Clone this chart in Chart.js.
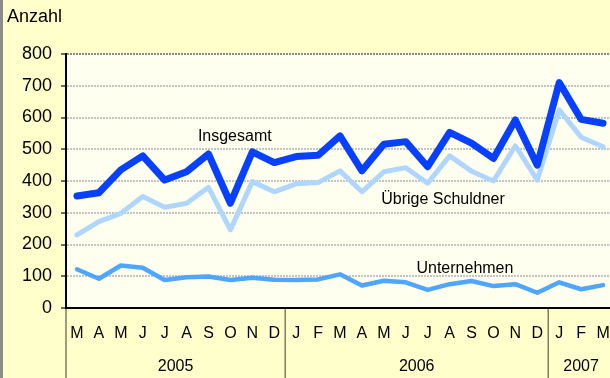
<!DOCTYPE html>
<html>
<head>
<meta charset="utf-8">
<script src="https://cdn.jsdelivr.net/npm/chart.js@4/dist/chart.umd.min.js"></script>
<style>
  html, body { margin: 0; padding: 0; background: #ffffcc; overflow: hidden; }
  canvas { display: block; }
</style>
</head>
<body>
<canvas id="chart" width="614" height="378"></canvas>
<script>
// Monate März 2005 bis März 2007
const months = ["M","A","M","J","J","A","S","O","N","D",
                "J","F","M","A","M","J","J","A","S","O","N","D",
                "J","F","M"];
const years = ["2005", "2006", "2007"];
const monthsPerYear = [10, 12, 3];

const seriesNames = ["Insgesamt", "Übrige Schuldner", "Unternehmen"];
const insgesamt = [353, 363, 435, 479, 403, 429, 485, 330, 492, 458,
                   477, 481, 542, 432, 516, 524, 445, 553, 519, 471, 592, 450,
                   710, 594, 582];
const uebrige = [230, 272, 298, 351, 317, 330, 380, 246, 398, 366,
                 391, 395, 432, 366, 429, 442, 393, 479, 431, 400, 511, 403,
                 624, 538, 508];
const unternehmen = [122, 92, 134, 127, 88, 97, 99, 88, 95, 89,
                     88, 90, 106, 71, 86, 81, 57, 75, 85, 69, 75, 48,
                     81, 59, 72];

const yTicks = [0, 100, 200, 300, 400, 500, 600, 700, 800];

const FONT = "'Liberation Sans', Arial, sans-serif";

// Beschriftung der Linien (Index auf der x-Achse, Wert auf der y-Achse)
const lineLabels = [
  { text: seriesNames[0], x: 7.2, y: 540 },
  { text: seriesNames[1], x: 16.7, y: 343 },
  { text: seriesNames[2], x: 17.7, y: 124 }
];

const decor = {
  id: "decor",
  beforeDraw(chart) {
    const { ctx, chartArea: a } = chart;
    ctx.save();
    ctx.fillStyle = "#ffffcc";
    ctx.fillRect(0, 0, chart.width, chart.height);
    ctx.fillStyle = "#ffffef";
    ctx.fillRect(a.left, a.top, a.right - a.left, a.bottom - a.top);
    ctx.fillStyle = "#8c8c8c";
    ctx.fillRect(0, 0, 3, chart.height);
    ctx.restore();
  },
  afterDraw(chart) {
    const { ctx, chartArea: a, scales } = chart;
    const x = scales.x, y = scales.y;
    const step = x.getPixelForValue(1) - x.getPixelForValue(0);
    ctx.save();
    // Jahrestrenner und Jahreszahlen unter der Achse
    ctx.strokeStyle = "#7f7d5e";
    ctx.lineWidth = 1.5;
    ctx.font = "16px " + FONT;
    ctx.fillStyle = "#000";
    ctx.textAlign = "center";
    ctx.textBaseline = "middle";
    let start = 0;
    years.forEach((yr, i) => {
      const x0 = x.getPixelForValue(start) - step / 2;
      ctx.beginPath();
      ctx.moveTo(x0, a.bottom + 1);
      ctx.lineTo(x0, chart.height);
      ctx.stroke();
      const end = start + monthsPerYear[i] - 1;
      const cx = (x.getPixelForValue(start) + x.getPixelForValue(end)) / 2;
      ctx.fillText(yr, cx, 367);
      start += monthsPerYear[i];
    });
    // Achsentitel
    ctx.textAlign = "left";
    ctx.font = "18px " + FONT;
    ctx.fillText("Anzahl", 7, 17);
    // Linienbeschriftungen
    ctx.textAlign = "center";
    ctx.font = "16px " + FONT;
    lineLabels.forEach(l => {
      const px = x.getPixelForValue(0) + l.x * step;
      ctx.fillText(l.text, px, y.getPixelForValue(l.y));
    });
    ctx.restore();
  }
};

new Chart(document.getElementById("chart"), {
  type: "line",
  data: {
    labels: months,
    datasets: [
      { label: seriesNames[0], data: insgesamt, borderColor: "#0840ff", borderWidth: 7 },
      { label: seriesNames[1], data: uebrige, borderColor: "#aed6ff", borderWidth: 5 },
      { label: seriesNames[2], data: unternehmen, borderColor: "#4ea6ff", borderWidth: 4.5 }
    ]
  },
  options: {
    responsive: false,
    animation: false,
    layout: { padding: { top: 54, right: 0, left: 0, bottom: 0 } },
    elements: {
      point: { radius: 0 },
      line: { tension: 0, borderJoinStyle: "round", borderCapStyle: "round" }
    },
    plugins: { legend: { display: false }, tooltip: { enabled: false } },
    scales: {
      x: {
        offset: true,
        grid: {
          display: true,
          drawOnChartArea: false,
          drawTicks: true,
          tickLength: 16,
          tickColor: "rgba(0,0,0,0)"
        },
        border: { color: "#000", width: 2 },
        ticks: {
          color: "#000",
          font: { family: FONT, size: 16 },
          padding: 0,
          maxRotation: 0,
          autoSkip: false
        },
        afterFit(s) { s.height = 70; }
      },
      y: {
        min: 0,
        max: 800,
        afterBuildTicks(s) { s.ticks = yTicks.map(v => ({ value: v })); },
        grid: {
          color: ctx => ctx.tick && ctx.tick.value === 800 ? "#8a8a8a" : "#c4c4c4",
          lineWidth: 2,
          tickLength: 5,
          tickColor: "#6a6a6a",
          tickBorderDash: []
        },
        border: { color: "#000", width: 2, dash: [2, 1] },
        ticks: {
          color: "#000",
          font: { family: FONT, size: 18 },
          padding: 9
        },
        afterFit(s) { s.width = 66; }
      }
    }
  },
  plugins: [decor]
});
</script>
</body>
</html>
